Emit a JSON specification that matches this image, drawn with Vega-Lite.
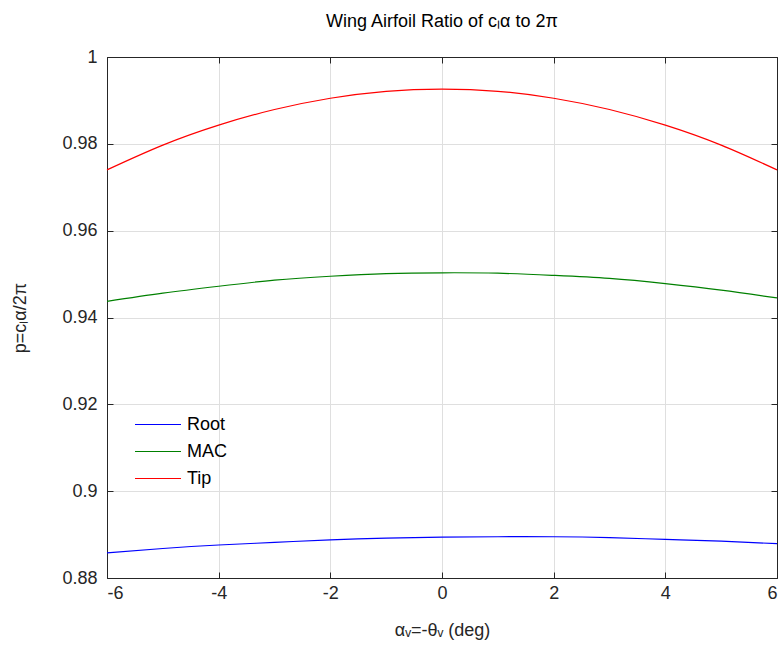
{
  "$schema": "https://vega.github.io/schema/vega-lite/v6.json",
  "width": 670,
  "height": 521,
  "autosize": {"type": "none"},
  "padding": {"left": 107, "top": 57, "right": 6, "bottom": 71},
  "background": "white",
  "config": {
    "font": "Liberation Sans",
    "view": {"stroke": "#262626", "strokeWidth": 1}
  },
  "title": {
    "text": "Wing Airfoil Ratio of cₗα to 2π",
    "fontSize": 18,
    "fontWeight": "normal",
    "color": "#000000",
    "offset": 17
  },
  "data": {
    "values": [
      {"x": -6, "y": 0.8858, "s": "Root"}, {"x": -5, "y": 0.8868, "s": "Root"}, {"x": -4, "y": 0.8876, "s": "Root"},
      {"x": -3, "y": 0.8882, "s": "Root"}, {"x": -2, "y": 0.8888, "s": "Root"}, {"x": -1, "y": 0.8892, "s": "Root"},
      {"x": 0, "y": 0.8894, "s": "Root"}, {"x": 1, "y": 0.8895, "s": "Root"}, {"x": 2, "y": 0.8895, "s": "Root"},
      {"x": 3, "y": 0.8893, "s": "Root"}, {"x": 4, "y": 0.8889, "s": "Root"}, {"x": 5, "y": 0.8885, "s": "Root"},
      {"x": 6, "y": 0.8879, "s": "Root"},
      {"x": -6, "y": 0.9437, "s": "MAC"}, {"x": -5, "y": 0.9456, "s": "MAC"}, {"x": -4, "y": 0.9472, "s": "MAC"},
      {"x": -3, "y": 0.9486, "s": "MAC"}, {"x": -2, "y": 0.9495, "s": "MAC"}, {"x": -1, "y": 0.9501, "s": "MAC"},
      {"x": 0, "y": 0.9503, "s": "MAC"}, {"x": 1, "y": 0.9502, "s": "MAC"}, {"x": 2, "y": 0.9497, "s": "MAC"},
      {"x": 3, "y": 0.9490, "s": "MAC"}, {"x": 4, "y": 0.9478, "s": "MAC"}, {"x": 5, "y": 0.9463, "s": "MAC"},
      {"x": 6, "y": 0.9445, "s": "MAC"},
      {"x": -6, "y": 0.9740, "s": "Tip"}, {"x": -5, "y": 0.9797, "s": "Tip"}, {"x": -4, "y": 0.9843, "s": "Tip"},
      {"x": -3, "y": 0.9879, "s": "Tip"}, {"x": -2, "y": 0.9905, "s": "Tip"}, {"x": -1, "y": 0.9921, "s": "Tip"},
      {"x": 0, "y": 0.9926, "s": "Tip"}, {"x": 1, "y": 0.9921, "s": "Tip"}, {"x": 2, "y": 0.9905, "s": "Tip"},
      {"x": 3, "y": 0.9879, "s": "Tip"}, {"x": 4, "y": 0.9843, "s": "Tip"}, {"x": 5, "y": 0.9797, "s": "Tip"},
      {"x": 6, "y": 0.9740, "s": "Tip"}
    ]
  },
  "layer": [
    {
      "mark": {"type": "line", "interpolate": "natural", "strokeWidth": 1.2},
      "encoding": {
        "x": {
          "field": "x", "type": "quantitative",
          "scale": {"domain": [-6, 6], "nice": false, "zero": false},
          "axis": {
            "title": "αᵥ=-θᵥ (deg)",
            "values": [-6, -4, -2, 0, 2, 4, 6],
            "labelExpr": "toString(datum.value)",
            "grid": true, "gridColor": "#dfdfdf", "gridOpacity": 1,
            "tickSize": -6, "tickColor": "#262626",
            "domainColor": "#262626",
            "labelFontSize": 18, "labelColor": "#262626", "labelPadding": 12,
            "titleFontSize": 18, "titleFontWeight": "normal", "titleColor": "#262626", "titlePadding": 19
          }
        },
        "y": {
          "field": "y", "type": "quantitative",
          "scale": {"domain": [0.88, 1], "nice": false, "zero": false},
          "axis": {
            "title": "p=cₗα/2π",
            "values": [0.88, 0.9, 0.92, 0.94, 0.96, 0.98, 1],
            "format": "~g",
            "grid": true, "gridColor": "#dfdfdf", "gridOpacity": 1,
            "tickSize": -6, "tickColor": "#262626",
            "domainColor": "#262626",
            "labelFontSize": 18, "labelColor": "#262626", "labelPadding": 16,
            "titleFontSize": 18, "titleFontWeight": "normal", "titleColor": "#262626", "titlePadding": 32
          }
        },
        "color": {
          "field": "s", "type": "nominal",
          "scale": {"domain": ["Root", "MAC", "Tip"], "range": ["#0000ff", "#008000", "#ff0000"]},
          "legend": {
            "title": null,
            "orient": "none",
            "legendX": 27,
            "legendY": 355,
            "symbolType": "M-1,0H3",
            "symbolSize": 529,
            "symbolStrokeWidth": 1.2,
            "labelFontSize": 18,
            "labelColor": "#000000",
            "labelOffset": 28,
            "rowPadding": 5
          }
        }
      }
    },
    {
      "mark": {"type": "line", "opacity": 0},
      "encoding": {
        "x": {
          "field": "x", "type": "quantitative",
          "scale": {"domain": [-6, 6], "nice": false, "zero": false},
          "axis": {"orient": "top", "title": null, "labels": false, "grid": false,
                   "values": [-6, -4, -2, 0, 2, 4, 6], "tickSize": -6, "tickColor": "#262626", "domainColor": "#262626"}
        },
        "y": {
          "field": "y", "type": "quantitative",
          "scale": {"domain": [0.88, 1], "nice": false, "zero": false},
          "axis": {"orient": "right", "title": null, "labels": false, "grid": false,
                   "values": [0.88, 0.9, 0.92, 0.94, 0.96, 0.98, 1], "tickSize": -6, "tickColor": "#262626", "domainColor": "#262626"}
        },
        "detail": {"field": "s"}
      }
    }
  ],
  "resolve": {"axis": {"x": "independent", "y": "independent"}}
}
